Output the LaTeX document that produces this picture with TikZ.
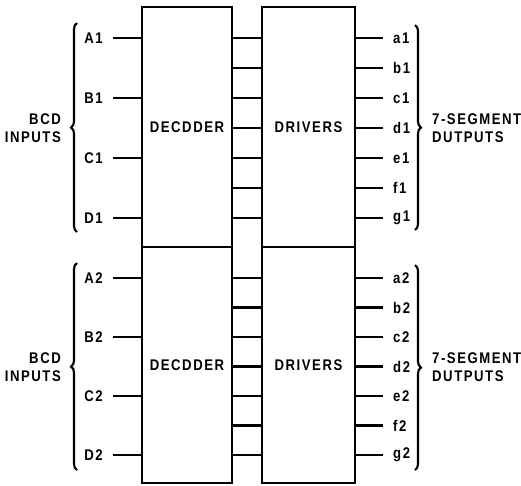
\documentclass[tikz,border=0pt]{standalone}
\usepackage{fontspec}
\setmainfont{Liberation Sans}[FakeStretch=0.85,LetterSpace=10]
\usetikzlibrary{calc,positioning,decorations.pathreplacing}

\begin{document}
\begin{tikzpicture}[x=0.02cm,y=-0.02cm,
    lbl/.style={font=\bfseries\fontsize{8.8}{10.2}\selectfont},
    blk/.style={lbl, draw, line width=1.6pt, inner sep=0pt},
    inlbl/.style={lbl, anchor=east},
    outlbl/.style={lbl, anchor=west},
    pin/.style={line width=1.6pt, shorten <=2pt},
    wire/.style={line width=1.6pt},
    brc/.style={decorate, decoration={brace, amplitude=0.12cm}, line width=1.2pt}]
    \useasboundingbox (0,0) rectangle (521,485);

    % upper chip
    \node[blk, minimum width=1.8cm, minimum height=4.8cm] (dec1) at (187,127) {DECDDER};
    \node[blk, minimum width=1.86cm, minimum height=4.8cm] (drv1) at (308.5,127) {DRIVERS};

    % lower chip
    \node[blk, minimum width=1.8cm, minimum height=4.72cm] (dec2) at (187,365) {DECDDER};
    \node[blk, minimum width=1.86cm, minimum height=4.72cm] (drv2) at (308.5,365) {DRIVERS};

    % BCD inputs
    \foreach \s [count=\k from 0] in {A,B,C,D} {
        \node[inlbl] (\s1) at (109,38+60*\k) {\s1};
        \draw[pin] (\s1) -- (\s1 -| dec1.west);
        \node[inlbl] (\s2) at (109,278+59*\k) {\s2};
        \draw[pin] (\s2) -- (\s2 -| dec2.west);
    }

    % segment outputs and decoder-driver lines
    \foreach \s [count=\k from 0] in {a,b,c,d,e,f,g} {
        \node[outlbl] (\s1) at (387,38+30*\k) {\s1};
        \draw[pin] (\s1) -- (\s1 -| drv1.east);
        \draw[wire] (\s1 -| dec1.east) -- (\s1 -| drv1.west);
        \node[outlbl] (\s2) at (387,278+29.5*\k) {\s2};
        \draw[pin] (\s2) -- (\s2 -| drv2.east);
        \draw[wire] (\s2 -| dec2.east) -- (\s2 -| drv2.west);
    }

    % braces
    \draw[brc] (77,232) -- (77,23);
    \draw[brc] (77,470) -- (77,263);
    \draw[brc] (415,25) -- (415,230);
    \draw[brc] (415,265) -- (415,470);
    \node[lbl, anchor=east, align=right] (bcd1) at (67,128) {BCD\\INPUTS};
    \node[lbl, anchor=east, align=right] (bcd2) at (67,367) {BCD\\INPUTS};
    \node[lbl, anchor=west, align=left] (seg1) at (426,128) {7-SEGMENT\\DUTPUTS};
    \node[lbl, anchor=west, align=left] (seg2) at (426,367) {7-SEGMENT\\DUTPUTS};
\end{tikzpicture}
\end{document}
